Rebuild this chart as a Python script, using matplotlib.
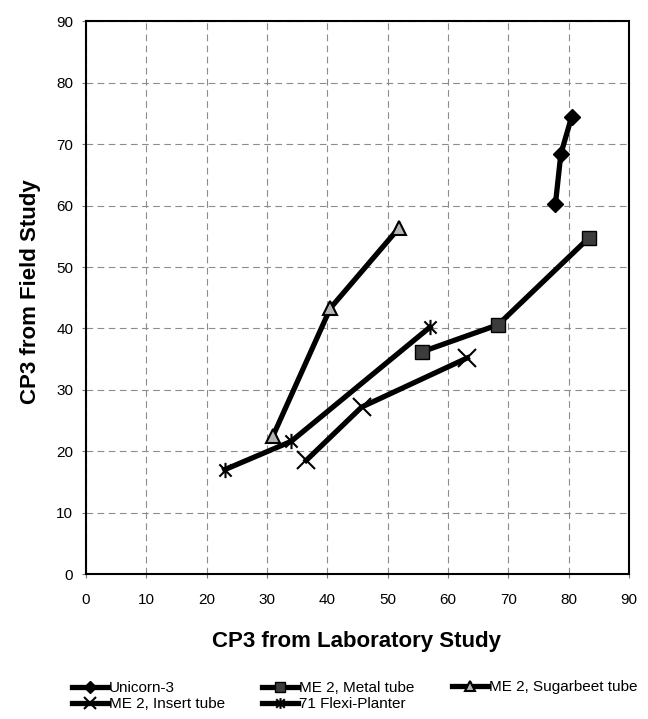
import matplotlib
matplotlib.use("Agg")
import matplotlib.pyplot as plt
from matplotlib.path import Path

plt.rcParams['font.family'] = ['Liberation Sans', 'DejaVu Sans']

# Data
unicorn_x = [77.8, 78.7, 80.5]
unicorn_y = [60.2, 68.4, 74.5]

metal_x = [55.7, 68.3, 83.4]
metal_y = [36.2, 40.6, 54.8]

sugar_x = [31.0, 40.5, 51.9]
sugar_y = [22.5, 43.3, 56.4]

insert_x = [36.5, 45.7, 63.2]
insert_y = [18.5, 27.2, 35.2]

flexi_x = [23.0, 34.0, 57.0]
flexi_y = [17.0, 21.6, 40.2]

ticks = list(range(0, 91, 10))

# Excel-style star marker: an "x" with a vertical stroke
star = Path([(-1, -1), (1, 1), (-1, 1), (1, -1), (0, -1.25), (0, 1.25)],
            [Path.MOVETO, Path.LINETO, Path.MOVETO, Path.LINETO, Path.MOVETO, Path.LINETO])

fig = plt.figure(figsize=(6.48, 7.19), dpi=100)
ax = fig.add_axes([86 / 648, 1 - 574 / 719, (629 - 86) / 648, (574 - 21.5) / 719])

lw = 3.8
h_uni, = ax.plot(unicorn_x, unicorn_y, color='black', lw=lw, marker='D',
                 markersize=8.5, markerfacecolor='black', markeredgecolor='black',
                 label='Unicorn-3', zorder=5)
h_met, = ax.plot(metal_x, metal_y, color='black', lw=lw, marker='s',
                 markersize=10, markerfacecolor='#3c3c3c', markeredgecolor='black',
                 label='ME 2, Metal tube', zorder=5)
h_sug, = ax.plot(sugar_x, sugar_y, color='black', lw=lw, marker='^',
                 markersize=10, markerfacecolor='#b4b4b4', markeredgecolor='black',
                 markeredgewidth=1.5, label='ME 2, Sugarbeet tube', zorder=5)
h_ins, = ax.plot(insert_x, insert_y, color='black', lw=lw, marker='x',
                 markersize=12.5, markeredgewidth=1.5, markeredgecolor='black',
                 label='ME 2, Insert tube', zorder=5)
h_fle, = ax.plot(flexi_x, flexi_y, color='black', lw=lw, marker=star,
                 markersize=11, markeredgewidth=1.5, markeredgecolor='black',
                 label='71 Flexi-Planter', zorder=5)

ax.set_xlim(0, 90)
ax.set_ylim(0, 90)
ax.set_xticks(ticks)
ax.set_yticks(ticks)
ax.grid(True, color='#8c8c8c', linestyle=(0, (6, 4)), linewidth=0.8)
ax.set_axisbelow(True)
for s in ax.spines.values():
    s.set_linewidth(1.5)
    s.set_color('black')
ax.tick_params(axis='both', direction='out', length=3, width=0.8, color='#777777',
               labelsize=11)
ax.tick_params(axis='x', pad=10.4)
ax.tick_params(axis='y', pad=6.1)

fig.text(356 / 648, 1 - 646.7 / 719, 'CP3 from Laboratory Study', fontsize=16,
         fontweight='bold', ha='center', va='baseline')
fig.text(31 / 648, 1 - 292 / 719, 'CP3 from Field Study', fontsize=16,
         fontweight='bold', ha='center', va='center', rotation=90)

columns = [([h_uni, h_ins], 71.7), ([h_met, h_fle], 261.7), ([h_sug], 451.7)]
for hs, xpx in columns:
    if len(hs) == 2:
        anchor_y = 1 - 696 / 719
    else:
        anchor_y = 1 - 687 / 719
    fig.legend(handles=hs, labels=[h.get_label() for h in hs],
               loc='center left', bbox_to_anchor=(xpx / 648, anchor_y),
               frameon=False, fontsize=11, handlelength=2.4,
               handletextpad=0.05, labelspacing=0.15, borderpad=0,
               borderaxespad=0, markerscale=0.7)
fig.savefig('out.png', dpi=100)
